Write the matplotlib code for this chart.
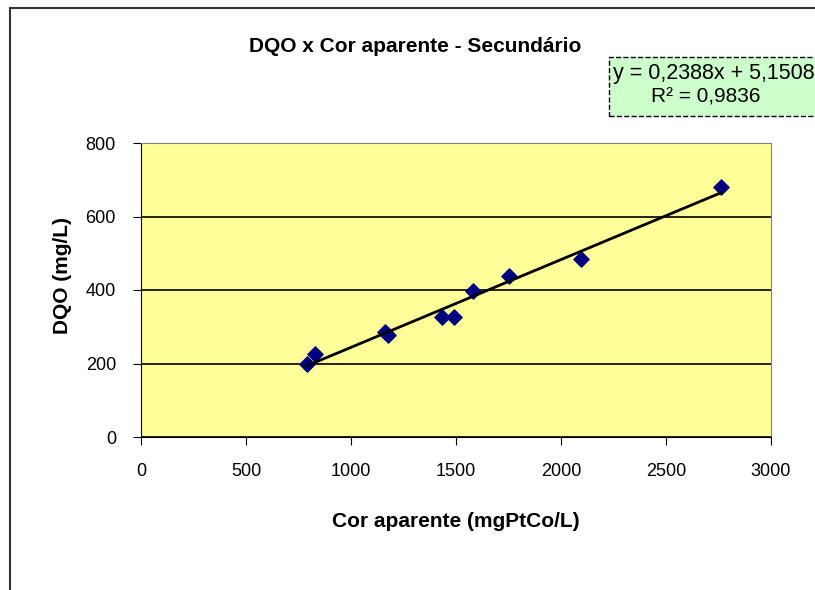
import numpy as np
import matplotlib.pyplot as plt
from matplotlib.patches import Rectangle

# leituras do grafico
cor = [789, 829, 1162, 1178, 1432, 1490, 1579, 1754, 2095, 2762]
dqo = [199, 226, 287, 278, 327, 327, 397, 439, 484, 681]
a, b = 0.2388, 5.1508
r2 = 0.9836

plt.rcParams['font.family'] = ['Liberation Sans', 'DejaVu Sans']

fig = plt.figure(figsize=(8.15, 5.9), dpi=100)
fig.patch.set_facecolor('white')

# moldura da area do grafico (cortada a direita e embaixo)
fig.patches.append(Rectangle((10/815, -0.05), 1.0, 1 - 8/590 + 0.05,
                             transform=fig.transFigure, fill=False,
                             edgecolor='#333333', lw=1.5))

ax = fig.add_axes([141/815, 1 - 437/590, 630/815, 294/590])
ax.set_facecolor('#FFFF99')

ax.scatter(cor, dqo, marker='D', s=60, color='#000080', zorder=3)
xl = np.array([min(cor), max(cor)])
ax.plot(xl, a*xl + b, color='black', lw=2, zorder=4)

ax.set_xlim(0, 3000)
ax.set_ylim(0, 800)
ax.set_xticks(range(0, 3001, 500))
ax.set_yticks(range(0, 801, 200))
ax.grid(axis='y', color='black', lw=1.2)
ax.set_axisbelow(True)
for s in ['top', 'right']:
    ax.spines[s].set_color('#808080')
for s in ['left', 'bottom']:
    ax.spines[s].set_color('black')
ax.tick_params(direction='out', length=6, labelsize=13)
ax.tick_params(axis='y', pad=12)
ax.tick_params(axis='x', pad=13)

ax.set_xlabel('Cor aparente (mgPtCo/L)', fontsize=15, fontweight='bold')
ax.set_ylabel('DQO (mg/L)', fontsize=15, fontweight='bold')
ax.xaxis.set_label_coords(0.5, -0.286)
ax.xaxis.label.set_va('center')
ax.yaxis.set_label_coords(-0.125, 0.55)
ax.yaxis.label.set_va('center')

fig.text(415/815, 1 - 47/590, 'DQO x Cor aparente - Secundário',
         ha='center', va='center', fontsize=15, fontweight='bold')

# caixa da equacao
fig.patches.append(Rectangle((609/815, 1 - 116/590), 0.3, 59/590,
                             transform=fig.transFigure, facecolor='#CCFFCC',
                             edgecolor='black', ls='--', lw=1))
eq = f'y = {a:.4f}x + {b:.4f}'.replace('.', ',')
fig.text(613/815, 1 - 74/590, eq, ha='left', va='center', fontsize=15.5)
fig.text(706/815, 1 - 97/590, f'R² = {r2:.4f}'.replace('.', ','),
         ha='center', va='center', fontsize=15)

fig.savefig('out.png', dpi=100)
